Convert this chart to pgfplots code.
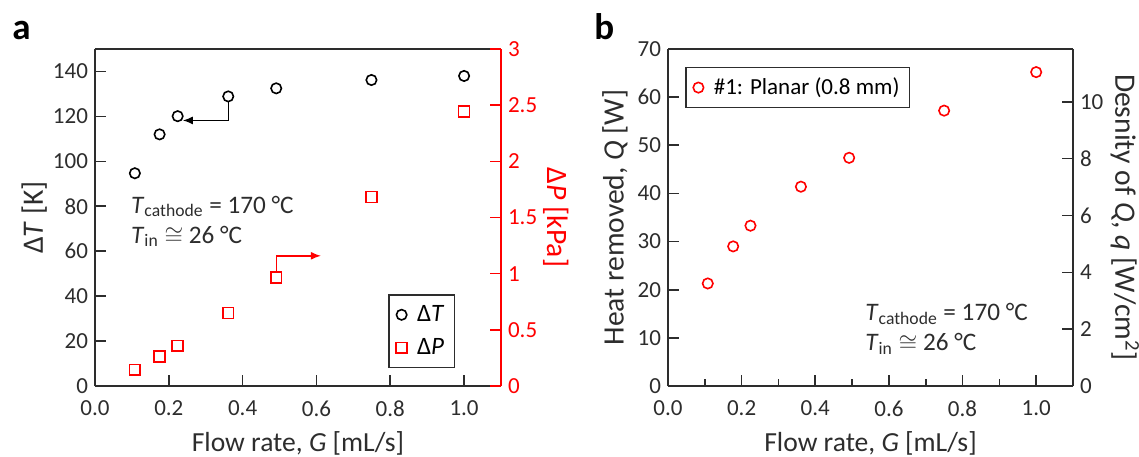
\documentclass[border=0pt]{standalone}
\usepackage{fontspec}
\setmainfont{Carlito}
\usepackage{pgfplots}
\pgfplotsset{compat=1.18}
\usetikzlibrary{arrows.meta}
\definecolor{axgray}{RGB}{45,45,45}
\definecolor{pred}{RGB}{255,0,0}

\pgfplotsset{
  panel/.style={
    scale only axis, width=203pt, height=168.5pt,
    xmin=0, xmax=1.1,
    tick align=inside,
    major tick length=5.5pt, minor tick length=3.5pt,
    every tick/.style={line width=0.8pt, color=axgray},
    axis line style={line width=1pt, color=axgray},
    /pgf/number format/assume math mode=true,
    tick label style={font=\fontsize{11.5}{13}\selectfont, color=axgray},
    xticklabel style={yshift=-4pt, /pgf/number format/.cd, fixed, fixed zerofill, precision=1},
    xtick={0,0.2,0.4,0.6,0.8,1.0},
    xtick pos=bottom,
    every axis x label/.style={at={(axis description cs:0.5,-0.17)}, anchor=center,
      font=\fontsize{13.8}{15}\selectfont, color=axgray},
    legend image code/.code={
      \path[draw=none, fill=none] (0pt,-3pt) rectangle (9pt,3pt);
      \draw[##1] plot coordinates {(4.3pt,0pt)};
    },
  },
  leftax/.style={panel, axis y line*=left, axis x line*=box, ytick pos=left},
  rightax/.style={panel, axis y line*=right, axis x line=none, xtick=\empty, ytick pos=right},
  ylab/.style={every axis y label/.style={at={(axis description cs:#1,0.5)}, anchor=center,
      rotate=90, font=\fontsize{14.8}{16}\selectfont, color=axgray}},
  ylabr/.style={every axis y label/.style={at={(axis description cs:#1,0.5)}, anchor=center,
      rotate=-90, font=\fontsize{14.8}{16}\selectfont}},
}

\begin{document}
\begin{tikzpicture}
\useasboundingbox (0,0) rectangle (569.5pt,228pt);

% panel labels
\node[anchor=base west, inner sep=0, font=\fontsize{18.5}{20}\selectfont\bfseries] at (6pt,208pt) {a};
\node[anchor=base west, inner sep=0, font=\fontsize{18.5}{20}\selectfont\bfseries] at (297pt,208pt) {b};

% ---------- panel a ----------
\begin{axis}[leftax, at={(47.5pt,35pt)}, anchor=south west,
  ymin=0, ymax=150, ytick={0,20,40,60,80,100,120,140},
  ylab=-0.150, ylabel={Δ\textit{T} [K]},
  xlabel={Flow rate, \textit{G} [mL/s]},
  legend style={at={(rel axis cs:0.887,0.053)}, anchor=south east,
    draw=axgray, line width=0.8pt, font=\fontsize{12.5}{14}\selectfont,
    inner xsep=2pt, inner ysep=3pt, row sep=3pt,
    nodes={inner xsep=3pt}},
  legend cell align=left,
]
\addplot[only marks, mark=o, mark size=2.6pt, mark options={line width=0.8pt, draw=black}]
  coordinates {(0.108,94.7) (0.175,112.0) (0.224,120.1) (0.361,128.9) (0.491,132.5) (0.749,136.2) (1.0,138.0)};
\addlegendentry{Δ\textit{T}\hspace{4pt}}
\addlegendimage{only marks, mark=square, mark size=2.7pt, mark options={line width=0.8pt, draw=pred}}
\addlegendentry{Δ\textit{P}\hspace{4pt}}
\draw[black, line width=0.7pt, -{Latex[length=5pt,width=4pt]}]
  (axis cs:0.361,126.6) |- (axis cs:0.238,118.2);
\node[anchor=base west, inner sep=0, font=\fontsize{12.6}{14}\selectfont, color=axgray]
  at (axis cs:0.097,77.0) {\textit{T}\textsubscript{cathode} = 170 °C};
\node[anchor=base west, inner sep=0, font=\fontsize{12.6}{14}\selectfont, color=axgray]
  at (axis cs:0.097,63.6) {\textit{T}\textsubscript{in} $\cong$ 26 °C};
\end{axis}

\begin{axis}[rightax, at={(47.5pt,35pt)}, anchor=south west,
  ymin=0, ymax=3, ytick={0,0.5,1,1.5,2,2.5,3},
  y axis line style={color=pred},
  every tick/.style={line width=0.8pt, color=pred},
  yticklabel style={color=pred},
  ylabr=1.135, ylabel={Δ\textit{P} [kPa]}, ylabel style={color=pred},
]
\addplot[only marks, mark=square, mark size=2.7pt, mark options={line width=0.8pt, draw=pred}]
  coordinates {(0.108,0.145) (0.175,0.263) (0.224,0.358) (0.361,0.650) (0.491,0.967) (0.749,1.682) (1.0,2.445)};
\draw[pred, line width=0.7pt, -{Latex[length=5pt,width=4pt]}]
  (axis cs:0.491,1.015) |- (axis cs:0.612,1.159);
\end{axis}

% ---------- panel b ----------
\begin{axis}[leftax, at={(334pt,35pt)}, anchor=south west, width=202.5pt,
  ymin=0, ymax=70, ytick={0,10,20,30,40,50,60,70},
  minor xtick={0.1,0.3,0.5,0.7,0.9},
  ylab=-0.131, ylabel={Heat removed, \textit{Q} [W]},
  xlabel={Flow rate, \textit{G} [mL/s]},
  legend style={at={(rel axis cs:0.042,0.947)}, anchor=north west,
    draw=axgray, line width=0.8pt, font=\fontsize{11.5}{13}\selectfont,
    inner xsep=2pt, inner ysep=3pt, nodes={inner xsep=3pt}},
  legend cell align=left,
]
\addplot[only marks, mark=o, mark size=2.6pt, mark options={line width=0.8pt, draw=pred}]
  coordinates {(0.108,21.3) (0.177,29.0) (0.224,33.3) (0.361,41.4) (0.492,47.4) (0.750,57.2) (1.0,65.2)};
\addlegendentry{\#1: Planar (0.8 mm)}
\node[anchor=base west, inner sep=0, font=\fontsize{12.6}{14}\selectfont, color=axgray]
  at (axis cs:0.535,13.7) {\textit{T}\textsubscript{cathode} = 170 °C};
\node[anchor=base west, inner sep=0, font=\fontsize{12.6}{14}\selectfont, color=axgray]
  at (axis cs:0.535,7.3) {\textit{T}\textsubscript{in} $\cong$ 26 °C};
\end{axis}

\begin{axis}[rightax, at={(334pt,35pt)}, anchor=south west, width=202.5pt,
  ymin=0, ymax=11.86, ytick={0,2,4,6,8,10},
  ylabr=1.128, ylabel={Desnity of \textit{Q}, \textit{q} [W/cm\textsuperscript{2}]}, ylabel style={color=axgray},
]
\addplot[draw=none, forget plot] coordinates {(0,0)};
\end{axis}
\end{tikzpicture}
\end{document}
